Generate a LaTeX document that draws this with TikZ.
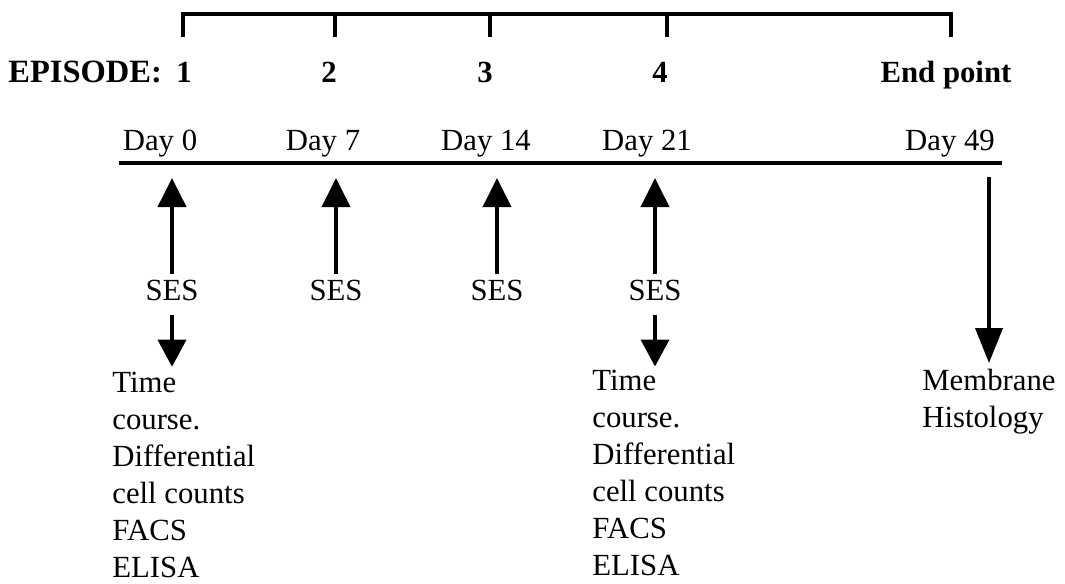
\documentclass[tikz,border=0pt]{standalone}
\usepackage{fontspec}
\setmainfont{Liberation Serif}
\usetikzlibrary{arrows.meta,positioning}

\begin{document}
\begin{tikzpicture}[x=0.02cm,y=-0.02cm,
    lbl/.style={font=\fontsize{17.5}{21}\selectfont,inner sep=0pt},
    eplbl/.style={font=\fontsize{17.5}{21}\selectfont\bfseries,inner sep=0pt,anchor=base},
    daylbl/.style={lbl,anchor=base},
    seslbl/.style={lbl,inner sep=3pt},
    reslbl/.style={lbl,align=left,anchor=north west},
    rule/.style={line width=1.9pt},
    uparr/.style={line width=2.2pt,-{Triangle[width=0.56cm,length=0.58cm]}},
    dnarr/.style={line width=2.2pt,-{Triangle[width=0.56cm,length=0.54cm]}},
    endarr/.style={line width=2.2pt,-{Triangle[width=0.54cm,length=0.7cm]}}]
  \useasboundingbox (0,0) rectangle (1065,583);

  % episode bracket
  \coordinate (b1) at (183,37);
  \coordinate (b2) at (335,37);
  \coordinate (b3) at (490,37);
  \coordinate (b4) at (667,37);
  \coordinate (b5) at (951,37);
  \draw[rule] (b1) -- ++(0,-23) -| (b5);
  \foreach \t in {b2,b3,b4}
    \draw[rule] (\t) -- ++(0,-23);

  \node[eplbl,anchor=base west,font=\fontsize{18.5}{22}\selectfont\bfseries] (ep) at (8,82) {EPISODE:};
  \node[eplbl] (e1) at (184,82) {1};
  \node[eplbl] (e2) at (329,82) {2};
  \node[eplbl] (e3) at (485,82) {3};
  \node[eplbl] (e4) at (660,82) {4};
  \node[eplbl] (eend) at (946,82) {End point};

  % time line
  \node[daylbl] (d0) at (160,150) {Day 0};
  \node[daylbl] (d7) at (323,150) {Day 7};
  \node[daylbl] (d14) at (486,150) {Day 14};
  \node[daylbl] (d21) at (647,150) {Day 21};
  \node[daylbl] (d49) at (950,150) {Day 49};
  \coordinate (tl) at (119,163);
  \coordinate (tr) at (1002,163);
  \draw[rule] (tl) -- (tr);

  % SES on each episode day
  \coordinate (a0) at (172,178);
  \coordinate (a7) at (336,178);
  \coordinate (a14) at (497,178);
  \coordinate (a21) at (655,178);
  \coordinate (a49) at (989,177);
  \node[seslbl] (s0) at (172,290) {SES};
  \node[seslbl] (s7) at (336,290) {SES};
  \node[seslbl] (s14) at (497,290) {SES};
  \node[seslbl] (s21) at (655,290) {SES};
  \foreach \s/\a in {s0/a0,s7/a7,s14/a14,s21/a21}
    \draw[uparr] (\s) -- (\a);

  % read-outs
  \node[reslbl] (r0) at (112,372) {Time\\course.\\Differential\\cell counts\\FACS\\ELISA};
  \node[reslbl] (r21) at (592,370) {Time\\course.\\Differential\\cell counts\\FACS\\ELISA};
  \node[reslbl] (r49) at (922,369) {Membrane\\Histology};
  \draw[dnarr,shorten <=5pt,shorten >=3pt] (s0) -- (s0 |- r0.north);
  \draw[dnarr,shorten <=5pt,shorten >=2pt] (s21) -- (s21 |- r21.north);
  \draw[endarr,shorten >=0.12cm] (a49) -- (a49 |- r49.north);
\end{tikzpicture}
\end{document}
